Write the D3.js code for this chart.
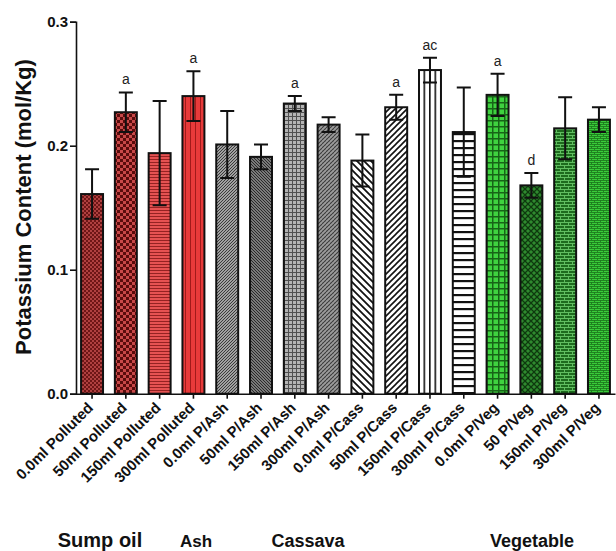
<!DOCTYPE html>
<html>
<head>
<meta charset="utf-8">
<script src="https://cdn.jsdelivr.net/npm/d3@7"></script>
<style>
  html, body { margin: 0; padding: 0; background: #fff; }
  svg { display: block; }
  text { font-family: Arial, "Liberation Sans", Helvetica, sans-serif; }
</style>
</head>
<body>
<svg id="chart" width="616" height="551"></svg>
<script>
// Potassium content per treatment
const categories = [
  "0.0ml Polluted", "50ml Polluted", "150ml Polluted", "300ml Polluted",
  "0.0ml P/Ash", "50ml P/Ash", "150ml P/Ash", "300ml P/Ash",
  "0.0ml P/Cass", "50ml P/Cass", "150ml P/Cass", "300ml P/Cass",
  "0.0ml P/Veg", "50 P/Veg", "150ml P/Veg", "300ml P/Veg"
];
const means = [
  0.161, 0.227, 0.194, 0.240,
  0.201, 0.191, 0.234, 0.217,
  0.188, 0.231, 0.261, 0.211,
  0.241, 0.168, 0.214, 0.221
];
const errors = [
  0.020, 0.016, 0.042, 0.020,
  0.027, 0.010, 0.006, 0.006,
  0.021, 0.010, 0.010, 0.036,
  0.017, 0.010, 0.025, 0.010
];
const letters = [
  "", "a", "", "a",
  "", "", "a", "",
  "", "a", "ac", "",
  "a", "d", "", ""
];
const groupNames = ["Sump oil", "Ash", "Cassava", "Vegetable"];
const yTicks = [0, 0.1, 0.2, 0.3];
const yTitle = "Potassium Content (mol/Kg)";

const svg = d3.select("#chart");
const defs = svg.append("defs");

// ---- fill patterns, one per bar: tile size + drawing ----
const fills = [
  // Sump oil (reds)
  { w: 4, h: 4, draw: p => {
      p.append("rect").attr("width", 4).attr("height", 4).attr("fill", "#6e1616");
      p.append("rect").attr("width", 2).attr("height", 2).attr("fill", "#b04040");
      p.append("rect").attr("x", 2).attr("y", 2).attr("width", 2).attr("height", 2).attr("fill", "#b04040"); } },
  { w: 6, h: 6, draw: p => {
      p.append("rect").attr("width", 6).attr("height", 6).attr("fill", "#5a0c0c");
      p.append("rect").attr("width", 3).attr("height", 3).attr("fill", "#c84848");
      p.append("rect").attr("x", 3).attr("y", 3).attr("width", 3).attr("height", 3).attr("fill", "#c84848"); } },
  { w: 4, h: 3, draw: p => {
      p.append("rect").attr("width", 4).attr("height", 3).attr("fill", "#e65252");
      p.append("rect").attr("width", 4).attr("height", 1).attr("fill", "#952222"); } },
  { w: 5, h: 4, draw: p => {
      p.append("rect").attr("width", 5).attr("height", 4).attr("fill", "#e83a3a");
      p.append("rect").attr("width", 1).attr("height", 4).attr("fill", "#a11a1a"); } },
  // Ash (greys)
  { w: 3, h: 3, draw: p => {
      p.append("rect").attr("width", 3).attr("height", 3).attr("fill", "#a0a0a0");
      p.append("path").attr("d", "M0,3 L3,0 M-1,1 L1,-1 M2,4 L4,2").attr("stroke", "#3a3a3a").attr("stroke-width", 1); } },
  { w: 3, h: 3, draw: p => {
      p.append("rect").attr("width", 3).attr("height", 3).attr("fill", "#7a7a7a");
      p.append("path").attr("d", "M0,0 L3,3 M-1,2 L1,4 M2,-1 L4,1").attr("stroke", "#2a2a2a").attr("stroke-width", 1); } },
  { w: 4, h: 4, draw: p => {
      p.append("rect").attr("width", 4).attr("height", 4).attr("fill", "#b4b4b4");
      p.append("path").attr("d", "M0,0.5 H4 M0.5,0 V4").attr("stroke", "#505050").attr("stroke-width", 1); } },
  { w: 4, h: 4, draw: p => {
      p.append("rect").attr("width", 4).attr("height", 4).attr("fill", "#9c9c9c");
      p.append("path").attr("d", "M0,2 L2,0 M2,4 L4,2").attr("stroke", "#3c3c3c").attr("stroke-width", 1.1); } },
  // Cassava (black hatches on white)
  { w: 7, h: 7, draw: p => {
      p.append("rect").attr("width", 7).attr("height", 7).attr("fill", "#fff");
      p.append("path").attr("d", "M0,0 L7,7 M-1,6 L1,8 M6,-1 L8,1").attr("stroke", "#111").attr("stroke-width", 1.8); } },
  { w: 6, h: 6, draw: p => {
      p.append("rect").attr("width", 6).attr("height", 6).attr("fill", "#fff");
      p.append("path").attr("d", "M0,6 L6,0 M-1,1 L1,-1 M5,7 L7,5").attr("stroke", "#111").attr("stroke-width", 1.6); } },
  { w: 5.5, h: 4, draw: p => {
      p.append("rect").attr("width", 5.5).attr("height", 4).attr("fill", "#fff");
      p.append("rect").attr("width", 1.6).attr("height", 4).attr("fill", "#111"); } },
  { w: 4, h: 7, draw: p => {
      p.append("rect").attr("width", 4).attr("height", 7).attr("fill", "#fff");
      p.append("rect").attr("width", 4).attr("height", 2.2).attr("fill", "#111"); } },
  // Vegetable (greens)
  { w: 6, h: 6, draw: p => {
      p.append("rect").attr("width", 6).attr("height", 6).attr("fill", "#3fd23f");
      p.append("path").attr("d", "M0,0.75 H6 M0.75,0 V6").attr("stroke", "#176417").attr("stroke-width", 1.5); } },
  { w: 6, h: 6, draw: p => {
      p.append("rect").attr("width", 6).attr("height", 6).attr("fill", "#2f8a2f");
      p.append("path").attr("d", "M0,0 L6,6 M0,6 L6,0").attr("stroke", "#0e3a0e").attr("stroke-width", 1.3); } },
  { w: 8, h: 6, draw: p => {
      p.append("rect").attr("width", 8).attr("height", 6).attr("fill", "#1d6b1d");
      p.append("path").attr("d", "M0,0.5 H8 M0,3.5 H8 M0.5,0 V3 M4.5,3 V6").attr("stroke", "#60be60").attr("stroke-width", 1); } },
  { w: 6, h: 4, draw: p => {
      p.append("rect").attr("width", 6).attr("height", 4).attr("fill", "#3acb3a");
      p.append("path").attr("d", "M0,0.5 H6 M0,2.5 H6 M0.5,0 V2 M3.5,2 V4").attr("stroke", "#1d7a1d").attr("stroke-width", 0.9); } }
];
fills.forEach((f, i) => {
  const p = defs.append("pattern")
    .attr("id", "fill" + i).attr("patternUnits", "userSpaceOnUse")
    .attr("width", f.w).attr("height", f.h);
  f.draw(p);
});

// ---- scales ----
const x = d3.scaleBand()
  .domain(categories)
  .range([76, 615])
  .paddingInner(0.35)
  .paddingOuter(0.15);

const y = d3.scaleLinear()
  .domain([0, 0.3])
  .range([393.7, 21.7]);

const data = categories.map((c, i) => ({ c, m: means[i], e: errors[i], l: letters[i], i }));

// ---- bars ----
svg.append("g").selectAll("rect")
  .data(data).join("rect")
  .attr("x", d => x(d.c))
  .attr("y", d => y(d.m))
  .attr("width", x.bandwidth())
  .attr("height", d => y(0) - y(d.m))
  .attr("fill", d => `url(#fill${d.i})`)
  .attr("stroke", "#111")
  .attr("stroke-width", 2);

// ---- error bars (mean ± error) ----
const cap = 7;
svg.append("g").attr("stroke", "#111").attr("stroke-width", 2).attr("fill", "none")
  .selectAll("path")
  .data(data).join("path")
  .attr("d", d => {
    const cx = x(d.c) + x.bandwidth() / 2;
    const t = y(d.m + d.e), b = y(d.m - d.e);
    return `M${cx},${t}V${b}M${cx - cap},${t}H${cx + cap}M${cx - cap},${b}H${cx + cap}`;
  });

// ---- significance letters ----
svg.append("g").selectAll("text")
  .data(data.filter(d => d.l)).join("text")
  .attr("x", d => x(d.c) + x.bandwidth() / 2)
  .attr("y", d => y(d.m + d.e) - 8)
  .attr("text-anchor", "middle")
  .attr("font-size", 14)
  .attr("fill", "#222")
  .text(d => d.l);

// ---- axes ----
const yAxis = svg.append("g")
  .attr("transform", "translate(76,0)")
  .call(d3.axisLeft(y).tickValues(yTicks).tickFormat(d3.format(".1f")).tickSize(6).tickPadding(2));
yAxis.select(".domain").attr("stroke", "#111").attr("stroke-width", 1.6);
yAxis.selectAll(".tick line").attr("stroke", "#111").attr("stroke-width", 1.6);
yAxis.selectAll(".tick text")
  .attr("font-size", 15).attr("font-weight", "bold").attr("fill", "#111")
  .attr("font-family", "Arial, 'Liberation Sans', sans-serif");

const xAxis = svg.append("g")
  .attr("transform", `translate(0,${y(0)})`)
  .call(d3.axisBottom(x).tickSize(5).tickSizeOuter(0));
xAxis.select(".domain").attr("stroke", "#111").attr("stroke-width", 1.6);
xAxis.selectAll(".tick line").attr("stroke", "#111").attr("stroke-width", 1.6);
xAxis.selectAll(".tick text")
  .attr("font-size", 15).attr("font-weight", "bold").attr("fill", "#111")
  .attr("font-family", "Arial, 'Liberation Sans', sans-serif")
  .attr("text-anchor", "end")
  .attr("x", 0).attr("y", 0).attr("dy", 0)
  .attr("transform", "translate(2,15) rotate(-45)");

// ---- y axis title ----
svg.append("text")
  .attr("transform", "translate(31,207) rotate(-90)")
  .attr("text-anchor", "middle")
  .attr("font-size", 22)
  .attr("font-weight", "bold")
  .attr("fill", "#111")
  .text(yTitle);

// ---- group labels ----
const groupPos = [[100, 20], [196, 17], [308, 18], [532, 18]];
svg.append("g").selectAll("text")
  .data(groupNames).join("text")
  .attr("x", (d, i) => groupPos[i][0])
  .attr("y", 547)
  .attr("text-anchor", "middle")
  .attr("font-size", (d, i) => groupPos[i][1])
  .attr("font-weight", "bold")
  .attr("fill", "#111")
  .text(d => d);
</script>
</body>
</html>
